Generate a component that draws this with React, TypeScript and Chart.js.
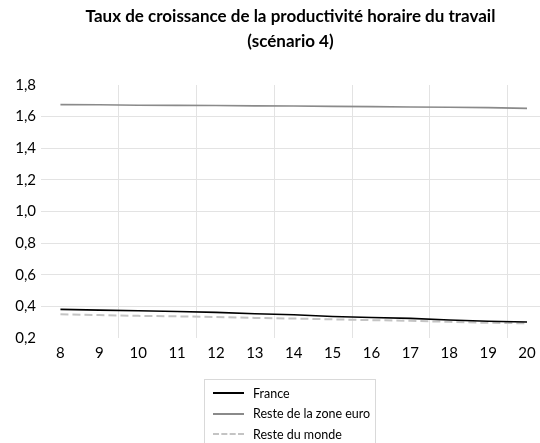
import React, { useEffect, useRef } from "react";
import { Chart, registerables } from "chart.js";

Chart.register(...registerables);

const years = [8, 9, 10, 11, 12, 13, 14, 15, 16, 17, 18, 19, 20];
const france = [0.381, 0.376, 0.372, 0.368, 0.362, 0.353, 0.347, 0.336, 0.33, 0.324, 0.314, 0.306, 0.301];
const resteZoneEuro = [1.676, 1.675, 1.672, 1.671, 1.67, 1.668, 1.667, 1.665, 1.663, 1.661, 1.659, 1.657, 1.652];
const resteMonde = [0.35, 0.345, 0.34, 0.337, 0.333, 0.327, 0.323, 0.318, 0.313, 0.309, 0.302, 0.296, 0.293];
const gridPositions = [9.5, 11.5, 13.5, 15.5, 17.5, 19.5];
const titleLines = ["Taux de croissance de la productivité horaire du travail", "(scénario 4)"];
const seriesNames = ["France", "Reste de la zone euro", "Reste du monde"];
const FONT = "Lato, 'Open Sans', sans-serif";

export default function App() {
  const ref = useRef<HTMLCanvasElement>(null);
  useEffect(() => {
    document.body.style.margin = "0";
    const ctx = ref.current!;
    const mk = (d: number[]) => years.map((x, i) => ({ x, y: d[i] }));
    const chart = new Chart(ctx, {
      type: "line",
      data: {
        datasets: [
          { label: seriesNames[0], data: mk(france), borderColor: "#000000", borderWidth: 1.6, pointRadius: 0, tension: 0 },
          { label: seriesNames[1], data: mk(resteZoneEuro), borderColor: "#8a8a8a", borderWidth: 1.6, pointRadius: 0, tension: 0 },
          { label: seriesNames[2], data: mk(resteMonde), borderColor: "#c4c4c4", borderWidth: 2, borderDash: [8, 4], pointRadius: 0, tension: 0 },
        ],
      },
      options: {
        animation: false,
        responsive: false,
        layout: { padding: { top: 0, bottom: 75, right: 0, left: 0 } },
        plugins: {
          legend: { display: false },
          tooltip: { enabled: false },
          title: {
            display: true,
            text: titleLines,
            fullSize: false,
            color: "#000",
            font: { family: FONT, size: 17, weight: "bold", lineHeight: 1.47 },
            padding: { top: 4, bottom: 31 },
          },
        },
        scales: {
          x: {
            type: "linear",
            min: 7.5,
            max: 20.334,
            border: { display: false },
            afterBuildTicks: (s: any) => {
              const t: any[] = [];
              years.forEach((y) => t.push({ value: y }));
              gridPositions.forEach((g) => t.push({ value: g }));
              t.sort((a, b) => a.value - b.value);
              s.ticks = t;
            },
            grid: {
              drawTicks: false,
              color: (c: any) => {
                const v = c.tick?.value;
                return v !== undefined && gridPositions.includes(v) ? "#e3e3e3" : "rgba(0,0,0,0)";
              },
            },
            ticks: {
              autoSkip: false,
              maxRotation: 0,
              padding: 6,
              color: "#000",
              font: { family: FONT, size: 15 },
              callback: (v: any) => (Number.isInteger(v) ? String(v) : ""),
            },
            afterFit: (s: any) => {
              s.height = 30;
              s.paddingLeft = 0;
              s.paddingRight = 0;
            },
          },
          y: {
            min: 0.2,
            max: 1.8,
            border: { display: false },
            grid: {
              drawTicks: false,
              color: (c: any) => {
                const v = c.tick?.value;
                return v === undefined || v < 0.3 || v > 1.7 ? "rgba(0,0,0,0)" : "#e3e3e3";
              },
            },
            ticks: {
              stepSize: 0.2,
              padding: 5,
              color: "#000",
              font: { family: FONT, size: 15 },
              callback: (v: any) => Number(v).toFixed(1).replace(".", ","),
            },
            afterFit: (s: any) => { s.width = 41; },
          },
        },
      },
    });
    return () => chart.destroy();
  }, []);

  const legendItems = [
    { name: seriesNames[0], style: "2px solid #000" },
    { name: seriesNames[1], style: "2px solid #8a8a8a" },
    { name: seriesNames[2], style: "2px dashed #c4c4c4" },
  ];

  return (
    <div style={{ position: "absolute", left: 0, top: 0, width: 540, height: 443, overflow: "hidden", background: "#fff" }}>
      <canvas ref={ref} width={540} height={443} style={{ display: "block" }} />
      <div
        style={{
          position: "absolute",
          left: 204,
          top: 379,
          width: 172,
          height: 70,
          border: "1px solid #d9d9d9",
          boxSizing: "border-box",
          fontFamily: FONT,
          fontSize: 12.5,
          color: "#000",
          paddingTop: 3,
        }}
      >
        {legendItems.map((it) => (
          <div key={it.name} style={{ display: "flex", alignItems: "center", height: 20.5, paddingLeft: 8 }}>
            <div style={{ width: 31, height: 0, borderTop: it.style, marginRight: 9 }} />
            <span>{it.name}</span>
          </div>
        ))}
      </div>
    </div>
  );
}
